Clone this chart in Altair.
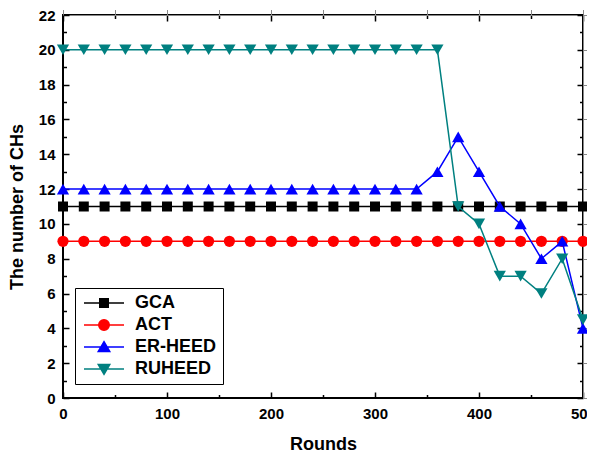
import altair as alt
import pandas as pd

rounds = [0, 20, 40, 60, 80, 100, 120, 140, 160, 180, 200, 220, 240,
          260, 280, 300, 320, 340, 360, 380, 400, 420, 440, 460, 480, 500]
gca = [11, 11, 11, 11, 11, 11, 11, 11, 11, 11, 11, 11, 11,
       11, 11, 11, 11, 11, 11, 11, 11, 11, 11, 11, 11, 11]
act = [9, 9, 9, 9, 9, 9, 9, 9, 9, 9, 9, 9, 9,
       9, 9, 9, 9, 9, 9, 9, 9, 9, 9, 9, 9, 9]
er_heed = [12, 12, 12, 12, 12, 12, 12, 12, 12, 12, 12, 12, 12,
           12, 12, 12, 12, 12, 13, 15, 13, 11, 10, 8, 9, 4]
ruheed = [20, 20, 20, 20, 20, 20, 20, 20, 20, 20, 20, 20, 20,
          20, 20, 20, 20, 20, 20, 11, 10, 7, 7, 6, 8, 4.5]

series_names = ["GCA", "ACT", "ER-HEED", "RUHEED"]
series_values = [gca, act, er_heed, ruheed]
series_colors = ["#000000", "#FF0000", "#0000FF", "#008080"]
marker_shapes = ["square", "circle", "triangle-up", "triangle-down"]
marker_sizes = [100, 125, 150, 150]
legend_paths = [
    "M-4,0H4M-0.85,-0.85H0.85V0.85H-0.85Z",
    "M-4,0H4M1.05,0A1.05,1.05,0,1,1,-1.05,0A1.05,1.05,0,1,1,1.05,0Z",
    "M-4,0H4M0,-1.05L1.15,0.9H-1.15Z",
    "M-4,0H4M0,1.05L1.15,-0.9H-1.15Z",
]

x_major = [0, 100, 200, 300, 400, 500]
x_minor = [50, 150, 250, 350, 450]
y_major = [0, 2, 4, 6, 8, 10, 12, 14, 16, 18, 20, 22]
y_minor = [1, 3, 5, 7, 9, 11, 13, 15, 17, 19, 21]

rows = []
for name, vals in zip(series_names, series_values):
    for r, v in zip(rounds, vals):
        rows.append({"Rounds": r, "CHs": v, "series": name})
df = pd.DataFrame(rows)

FONT = "Liberation Sans"
xscale = alt.Scale(domain=[0, 500], nice=False, zero=False)
yscale = alt.Scale(domain=[0, 22], nice=False, zero=False)
color_scale = alt.Scale(domain=series_names, range=series_colors)

base = alt.Chart(df)

# main axes with labels and titles
label_layer = base.mark_point(opacity=0).encode(
    x=alt.X("Rounds:Q", scale=xscale, axis=alt.Axis(
        orient="bottom", values=x_major, title="Rounds", ticks=False, tickSize=0,
        domain=False, grid=False, labelPadding=8, labelFont=FONT, labelFontSize=15,
        labelFontWeight="bold", labelColor="black", titleFont=FONT, titleFontSize=18,
        titleFontWeight="bold", titleColor="black", titlePadding=14, labelFlush=False)),
    y=alt.Y("CHs:Q", scale=yscale, axis=alt.Axis(
        orient="left", values=y_major, title="The number of CHs", ticks=False, tickSize=0,
        domain=False, grid=False, labelPadding=8, labelFont=FONT, labelFontSize=15,
        labelFontWeight="bold", labelColor="black", titleFont=FONT, titleFontSize=18,
        titleFontWeight="bold", titleColor="black", titlePadding=12, labelFlush=False)),
)


def tick_layer(xvals, yvals, size, xorient, yorient):
    return base.mark_point(opacity=0).encode(
        x=alt.X("Rounds:Q", scale=xscale, axis=alt.Axis(
            orient=xorient, values=xvals, tickSize=size, offset=-size, labels=False,
            labelOpacity=0, domain=False, grid=False, title=None, tickColor="black",
            tickWidth=1.5)),
        y=alt.Y("CHs:Q", scale=yscale, axis=alt.Axis(
            orient=yorient, values=yvals, tickSize=size, offset=-size, labels=False,
            labelOpacity=0, domain=False, grid=False, title=None, tickColor="black",
            tickWidth=1.5)),
    )


tick_layers = [
    tick_layer(x_major, y_major, 6, "bottom", "left"),
    tick_layer(x_minor, y_minor, 3.5, "bottom", "left"),
    tick_layer(x_major, y_major, 6, "top", "right"),
    tick_layer(x_minor, y_minor, 3.5, "top", "right"),
]

series_layers = []
for name, col, shp, sz in zip(series_names, series_colors, marker_shapes, marker_sizes):
    sub = base.transform_filter(alt.datum.series == name)
    series_layers.append(sub.mark_line(color=col, strokeWidth=1.5).encode(
        x=alt.X("Rounds:Q", scale=xscale), y=alt.Y("CHs:Q", scale=yscale)))
    series_layers.append(sub.mark_point(shape=shp, size=sz, filled=True, color=col, opacity=1).encode(
        x=alt.X("Rounds:Q", scale=xscale), y=alt.Y("CHs:Q", scale=yscale)))

legend_layer = base.transform_filter("datum.CHs < -100").mark_point(
    filled=True, strokeWidth=1.5, size=116, opacity=1).encode(
    x=alt.X("Rounds:Q", scale=xscale),
    y=alt.Y("CHs:Q", scale=yscale),
    color=alt.Color("series:N", scale=color_scale, legend=alt.Legend(title=None)),
    stroke=alt.Stroke("series:N", scale=color_scale, legend=alt.Legend(title=None)),
    shape=alt.Shape("series:N", scale=alt.Scale(domain=series_names, range=legend_paths),
                    legend=alt.Legend(title=None)),
)

chart = alt.layer(label_layer, *tick_layers, *series_layers, legend_layer).resolve_axis(
    x="independent", y="independent"
).properties(
    width=520, height=383,
    autosize=alt.AutoSizeParams(type="none"),
    padding={"left": 55, "top": 7, "right": 4, "bottom": 56},
).configure_view(
    stroke="black", strokeWidth=2
).configure_legend(
    orient="none", legendX=12, legendY=273,
    strokeColor="black", strokeWidth=1, fillColor="white", padding=6,
    labelFont=FONT, labelFontSize=18, labelFontWeight="bold", labelColor="black",
    labelOffset=22, symbolOffset=14, rowPadding=4, symbolStrokeWidth=1.5,
    cornerRadius=0,
)

chart.save("out.html", embed_options={"renderer": "svg", "actions": False})
